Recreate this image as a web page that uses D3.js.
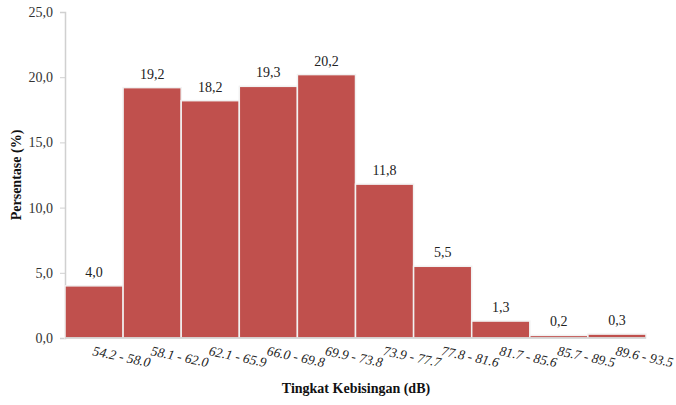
<!DOCTYPE html>
<html><head><meta charset="utf-8">
<script src="https://cdn.jsdelivr.net/npm/d3@7/dist/d3.min.js"></script>
<style>body{margin:0;background:#fff}svg{display:block}</style>
</head><body><svg id="c" width="676" height="405"></svg>
<script>
const categories = ["54.2 - 58.0","58.1 - 62.0","62.1 - 65.9","66.0 - 69.8","69.9 - 73.8","73.9 - 77.7","77.8 - 81.6","81.7 - 85.6","85.7 - 89.5","89.6 - 93.5"];
const values = [4.0,19.2,18.2,19.3,20.2,11.8,5.5,1.3,0.2,0.3];
const yTicks = [0,5,10,15,20,25];
const fmt = v => v.toFixed(1).replace(".", ",");

(function () {
const svg = d3.select("#c");
const mLeft = 65, mRight = 646, mTop = 12, mBottom = 338;
const x = d3.scaleBand().domain(categories).range([mLeft, mRight]).padding(0);
const y = d3.scaleLinear().domain([0, 25]).range([mBottom, mTop]);
const serif = "'Liberation Serif','Times New Roman',serif";

// y axis
const ya = svg.append("g").attr("transform", `translate(${mLeft},0)`)
  .call(d3.axisLeft(y).tickValues(yTicks).tickFormat(fmt).tickSize(5).tickPadding(7));
ya.select(".domain").attr("stroke", "#d0d0d0").attr("stroke-width", 1.5);
ya.selectAll(".tick line").attr("stroke", "#d0d0d0");
ya.selectAll("text").attr("font-family", serif).attr("font-size", 14).attr("fill", "#333");

// bars
svg.append("g").selectAll("rect").data(values).join("rect")
  .attr("x", (d, i) => x(categories[i]))
  .attr("y", d => y(d))
  .attr("width", x.bandwidth())
  .attr("height", d => mBottom - y(d))
  .attr("fill", "#C0504D")
  .attr("stroke", "#f2f2f2").attr("stroke-width", 1.5);

// x axis line
svg.append("line").attr("x1", mLeft).attr("x2", mRight).attr("y1", mBottom).attr("y2", mBottom)
  .attr("stroke", "#d0d0d0").attr("stroke-width", 1.5);

// value labels
svg.append("g").selectAll("text").data(values).join("text")
  .attr("x", (d, i) => x(categories[i]) + x.bandwidth() / 2)
  .attr("y", d => y(d) - 9)
  .attr("text-anchor", "middle")
  .attr("font-family", serif).attr("font-size", 14).attr("fill", "#222")
  .text(fmt);

// category labels (rotated)
svg.append("g").selectAll("text").data(categories).join("text")
  .attr("transform", (d) => `translate(${x(d) + x.bandwidth() / 2 - 2},${mBottom + 17}) rotate(12)`)
  .attr("font-family", serif).attr("font-style", "italic").attr("font-size", 13.5).attr("fill", "#222")
  .text(d => d);

// axis titles
svg.append("text").attr("x", 356).attr("y", 393).attr("text-anchor", "middle")
  .attr("font-family", serif).attr("font-weight", "bold").attr("font-size", 14).attr("fill", "#111")
  .text("Tingkat Kebisingan (dB)");
svg.append("text").attr("transform", "translate(21,175) rotate(-90)").attr("text-anchor", "middle")
  .attr("font-family", serif).attr("font-weight", "bold").attr("font-size", 14).attr("fill", "#111")
  .text("Persentase (%)");
})();
</script></body></html>
